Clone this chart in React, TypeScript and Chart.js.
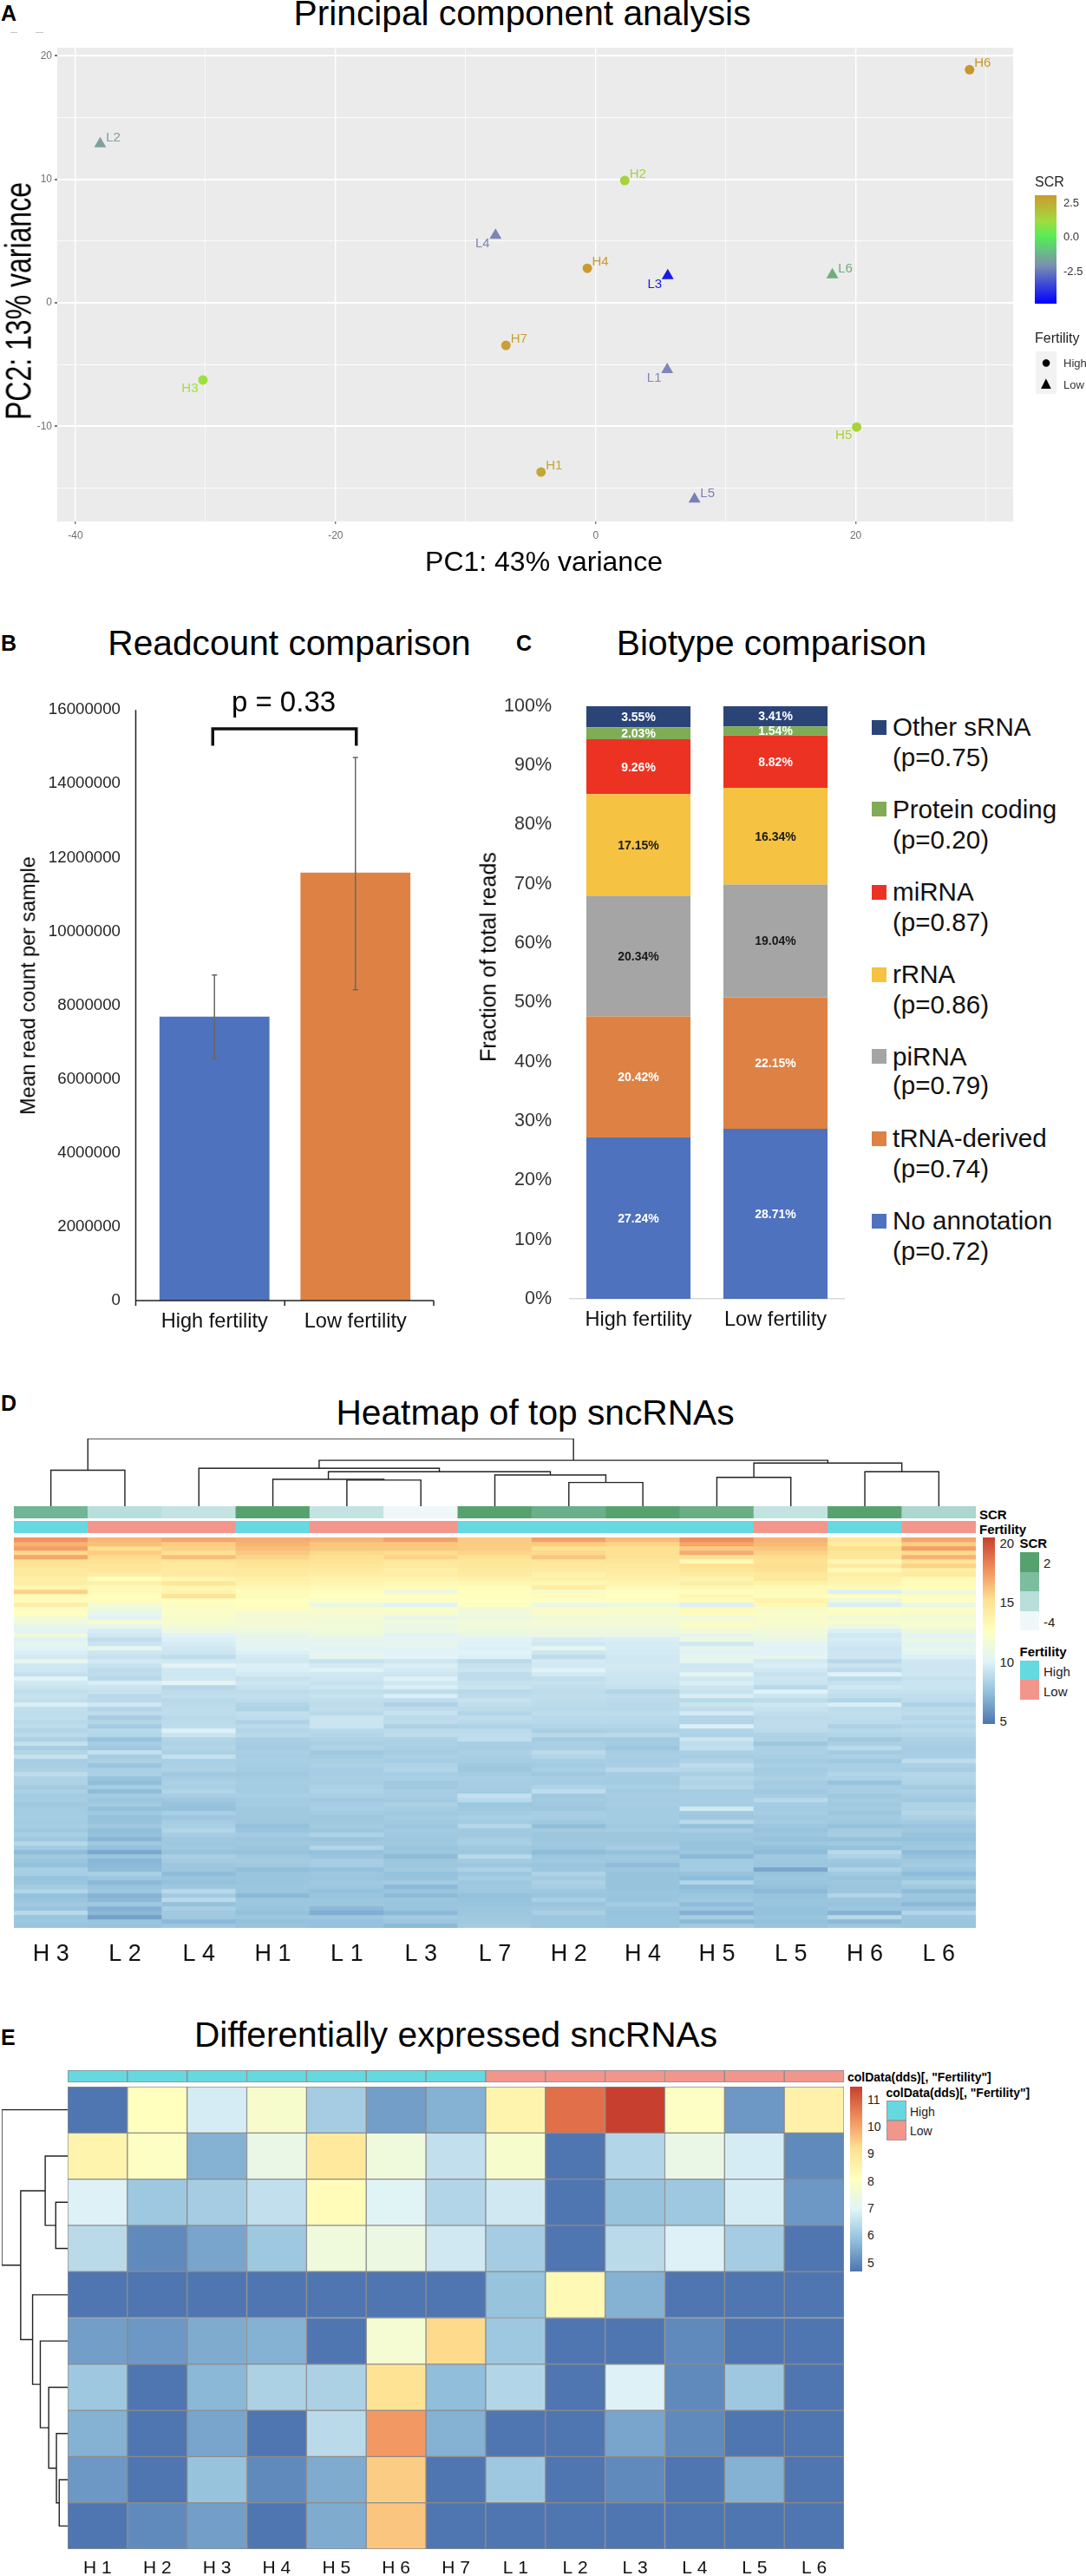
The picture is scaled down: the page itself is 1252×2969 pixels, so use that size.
import React, { useEffect, useRef } from 'react';
import { Chart, registerables } from 'chart.js';

Chart.register(...registerables);

const FONT = '"Liberation Sans", Arial, sans-serif';

// Panel A
const sampleNames = ['H6', 'L2', 'H2', 'L4', 'H4', 'L3', 'L6', 'H7', 'L1', 'H3', 'H5', 'H1', 'L5'];
const pc1 = [28.75, -38.1, 2.24, -7.7, -0.64, 5.54, 18.2, -6.9, 5.5, -30.2, 20.07, -4.2, 7.6];
const pc2 = [18.87, 12.87, 9.9, 5.46, 2.8, 2.2, 2.26, -3.45, -5.4, -6.25, -10.06, -13.7, -15.9];
const scrColors = ['#c8962e', '#7f9f9c', '#a6d23a', '#7d85b8', '#cc9a2e', '#1a1ae6', '#6fae7a', '#c9a035', '#7f86bb', '#9fe03a', '#a8d335', '#c2a732', '#7a7fb8'];
const labelsBelow = ['L4', 'L3', 'L1', 'H3', 'H5'];
const pcaXGrid = [-40, -30, -20, -10, 0, 10, 20, 30];
const pcaYGrid = [-15, -10, -5, 0, 5, 10, 15, 20];

// Panel B
const fertilityGroups = ['High fertility', 'Low fertility'];
const meanReads = [7690000, 11590000];
const readsErrLow = [6550000, 8420000];
const readsErrHigh = [8820000, 14710000];
const bracketTop = 15490000;
const bracketBottom = 15030000;

// Panel C
const biotypes = ['No annotation', 'tRNA-derived', 'piRNA', 'rRNA', 'miRNA', 'Protein coding', 'Other sRNA'];
const biotypeHigh = [27.24, 20.42, 20.34, 17.15, 9.26, 2.03, 3.55];
const biotypeLow = [28.71, 22.15, 19.04, 16.34, 8.82, 1.54, 3.41];
const biotypeP = ['0.72', '0.74', '0.79', '0.86', '0.87', '0.20', '0.75'];
const biotypeColors = ['#4e72bd', '#dd8244', '#a5a5a5', '#f5c242', '#ec3323', '#7fac55', '#2b4478'];
const biotypeTextColors = ['#ffffff', '#ffffff', '#1a1a1a', '#1a1a1a', '#ffffff', '#ffffff', '#ffffff'];

// Panel D
const heatColumns = ['H 3', 'L 2', 'L 4', 'H 1', 'L 1', 'L 3', 'L 7', 'H 2', 'H 4', 'H 5', 'L 5', 'H 6', 'L 6'];
const heatScr = ['#6fb796', '#b8dedb', '#c6e3e3', '#56a26f', '#c3e3e2', '#eff7f9', '#56a26f', '#69b08a', '#56a26f', '#6aae86', '#c3e3e2', '#56a26f', '#acd6cf'];
const HIGH = '#66d8e0';
const LOW = '#f2968c';
const heatFertility = [HIGH, LOW, LOW, HIGH, LOW, LOW, HIGH, HIGH, HIGH, HIGH, LOW, HIGH, LOW];
// [left, right, height]; negative child -1-k means merge k
const heatMerges = [
  [0, 1, 91], [4, 5, 66], [3, -2, 68], [7, 8, 60], [6, -4, 79], [-3, -5, 87],
  [2, -6, 96], [9, 10, 73], [11, 12, 87], [-8, -9, 109], [-7, -10, 116], [-1, -11, 171],
];
const heatRows = [
  [17.6, 16.5, 17.0, 16.8, 16.6, 17.2, 15.8, 17.2, 16.3, 17.8, 16.6, 14.6, 17.0],
  [16.6, 16.2, 15.8, 16.6, 16.0, 16.0, 15.8, 15.8, 15.5, 17.0, 16.4, 14.2, 15.8],
  [17.2, 15.2, 15.6, 16.2, 15.9, 15.9, 15.8, 15.1, 15.1, 15.8, 16.0, 15.2, 17.2],
  [15.4, 15.8, 15.0, 15.9, 15.4, 15.2, 15.5, 15.4, 15.0, 16.8, 15.6, 14.7, 15.3],
  [17.0, 15.3, 16.2, 15.5, 15.0, 15.6, 14.9, 16.0, 15.0, 15.0, 15.2, 14.6, 16.6],
  [15.0, 15.0, 14.6, 15.0, 14.9, 14.4, 14.7, 14.6, 14.7, 13.0, 15.0, 13.2, 14.8],
  [14.8, 14.6, 14.4, 14.8, 14.6, 14.4, 14.6, 14.5, 14.4, 15.1, 15.2, 14.2, 15.6],
  [14.3, 14.6, 14.2, 14.4, 14.4, 13.8, 14.4, 14.2, 14.3, 14.6, 15.0, 13.0, 14.0],
  [14.4, 14.0, 14.3, 14.2, 14.0, 14.0, 14.2, 13.6, 14.0, 14.2, 14.4, 14.0, 14.3],
  [13.9, 12.6, 13.4, 13.8, 13.5, 13.4, 13.7, 13.8, 13.8, 13.4, 14.6, 13.6, 13.0],
  [14.0, 13.8, 14.6, 13.6, 13.4, 13.1, 13.2, 13.2, 13.4, 14.0, 13.6, 13.4, 12.9],
  [13.4, 13.0, 13.3, 13.1, 13.0, 12.8, 12.7, 14.0, 13.0, 13.2, 13.0, 12.9, 12.7],
  [15.6, 13.0, 13.5, 12.9, 12.6, 11.0, 12.6, 12.0, 12.4, 12.6, 13.0, 9.8, 11.2],
  [13.0, 12.6, 14.8, 12.8, 12.5, 12.5, 12.6, 12.8, 12.5, 13.3, 12.7, 12.6, 12.2],
  [12.8, 12.8, 12.6, 12.5, 12.2, 12.4, 12.5, 12.3, 12.4, 12.9, 13.6, 11.0, 12.3],
  [14.0, 11.6, 12.2, 12.6, 10.8, 10.0, 12.4, 10.8, 11.0, 9.8, 13.2, 9.7, 10.8],
  [12.3, 11.0, 12.2, 12.2, 12.0, 12.2, 11.4, 12.0, 12.0, 13.0, 12.0, 12.4, 12.2],
  [12.5, 10.4, 12.1, 11.6, 11.8, 11.8, 11.2, 12.0, 11.8, 12.8, 12.2, 12.2, 12.0],
  [11.6, 10.0, 12.0, 11.6, 11.6, 10.6, 11.0, 11.4, 11.5, 11.2, 12.0, 11.3, 11.4],
  [11.0, 11.8, 11.9, 11.6, 11.4, 11.2, 11.4, 11.6, 11.6, 12.0, 12.0, 12.0, 11.8],
  [10.6, 10.4, 11.3, 11.5, 11.4, 10.8, 11.4, 11.3, 11.2, 12.2, 11.6, 11.0, 11.8],
  [10.2, 9.6, 11.0, 11.0, 11.2, 11.0, 11.0, 11.0, 11.0, 11.4, 11.4, 9.8, 11.0],
  [11.3, 9.4, 10.0, 10.6, 11.0, 10.0, 10.8, 10.8, 10.7, 10.4, 11.0, 9.4, 10.2],
  [9.9, 8.9, 9.8, 10.4, 10.2, 10.4, 10.0, 9.6, 9.7, 10.9, 10.9, 9.6, 10.7],
  [10.4, 9.2, 9.6, 10.3, 10.5, 10.4, 9.9, 9.4, 9.6, 9.4, 10.2, 9.4, 10.3],
  [10.0, 10.5, 9.4, 10.2, 10.0, 10.2, 9.8, 10.4, 9.6, 10.3, 10.0, 9.2, 10.4],
  [9.7, 9.3, 9.3, 9.8, 10.2, 10.0, 10.0, 9.3, 9.5, 10.0, 10.0, 9.3, 10.3],
  [9.5, 9.1, 8.8, 9.5, 10.5, 10.0, 9.8, 8.8, 9.4, 10.4, 10.4, 9.3, 9.8],
  [10.5, 9.5, 9.4, 9.4, 9.1, 9.3, 8.7, 9.5, 9.4, 10.3, 9.5, 8.6, 9.4],
  [9.4, 9.1, 10.2, 9.8, 9.5, 9.7, 9.1, 9.4, 9.5, 9.3, 9.7, 9.2, 9.3],
  [9.3, 8.8, 9.4, 9.7, 9.9, 9.5, 9.2, 9.9, 9.4, 9.4, 9.4, 8.8, 9.3],
  [9.0, 8.8, 9.3, 9.5, 9.4, 9.3, 8.8, 9.5, 9.3, 10.2, 9.1, 9.9, 9.3],
  [10.0, 8.6, 9.4, 9.1, 9.3, 9.9, 8.8, 8.9, 9.2, 9.4, 9.3, 8.7, 9.1],
  [9.4, 9.7, 10.2, 9.3, 9.1, 9.4, 9.1, 9.1, 9.2, 9.7, 9.2, 9.1, 9.2],
  [9.2, 9.2, 8.5, 9.1, 9.3, 9.7, 9.2, 8.9, 9.1, 9.3, 8.6, 9.4, 9.2],
  [8.9, 9.1, 8.8, 8.8, 8.9, 8.8, 8.6, 8.8, 8.4, 9.1, 9.9, 9.1, 9.1],
  [9.1, 8.6, 8.9, 8.9, 9.1, 9.7, 8.8, 8.9, 8.8, 9.7, 9.2, 8.9, 8.9],
  [8.9, 8.7, 8.6, 8.8, 8.9, 8.8, 9.1, 8.8, 8.7, 8.6, 8.8, 8.4, 8.8],
  [9.7, 9.4, 8.7, 8.4, 8.8, 8.3, 8.9, 8.7, 8.6, 9.2, 9.3, 9.7, 8.3],
  [8.9, 8.4, 8.8, 8.3, 8.9, 8.8, 8.7, 8.6, 8.6, 8.8, 9.1, 8.8, 8.7],
  [8.8, 8.8, 8.8, 8.9, 8.6, 9.1, 8.4, 8.8, 8.8, 9.5, 8.9, 8.9, 8.8],
  [8.9, 8.0, 8.6, 8.8, 9.2, 8.7, 8.8, 8.6, 8.6, 8.4, 8.7, 8.8, 8.4],
  [8.6, 8.4, 8.7, 8.3, 9.2, 8.8, 8.6, 8.6, 8.6, 8.4, 8.8, 8.7, 8.7],
  [8.8, 7.9, 8.8, 8.7, 9.2, 8.2, 8.3, 8.4, 8.4, 9.8, 8.8, 8.2, 8.4],
  [8.4, 8.6, 9.8, 8.4, 8.6, 8.7, 8.7, 8.1, 8.2, 8.3, 8.7, 8.6, 8.7],
  [8.7, 8.4, 9.2, 8.6, 8.4, 8.8, 8.8, 8.6, 8.6, 8.3, 8.3, 8.4, 8.5],
  [8.2, 7.5, 8.4, 8.1, 8.3, 8.2, 8.9, 7.9, 7.9, 9.2, 8.3, 7.8, 8.2],
  [9.0, 8.0, 8.3, 8.0, 8.1, 8.2, 8.1, 8.1, 7.9, 8.8, 7.7, 8.1, 8.1],
  [8.0, 7.8, 8.4, 7.9, 8.3, 8.1, 8.0, 8.1, 7.7, 9.0, 8.2, 8.7, 8.0],
  [8.4, 9.0, 8.2, 8.1, 7.8, 8.0, 8.2, 8.7, 8.0, 8.2, 8.2, 7.9, 8.0],
  [9.1, 8.0, 9.0, 8.0, 7.9, 8.2, 8.1, 8.4, 8.1, 8.0, 8.1, 8.2, 8.1],
  [8.0, 8.2, 8.1, 8.1, 8.1, 8.0, 8.0, 8.0, 8.0, 8.3, 7.9, 7.8, 8.8],
  [8.1, 7.6, 8.2, 8.0, 8.2, 8.3, 7.8, 7.9, 8.1, 8.8, 8.1, 8.1, 8.2],
  [8.2, 8.1, 8.3, 7.9, 8.0, 8.4, 7.7, 8.1, 8.6, 8.5, 7.9, 8.1, 8.0],
  [8.8, 8.2, 7.8, 7.8, 8.0, 8.0, 7.9, 7.8, 8.0, 8.1, 8.0, 8.4, 8.5],
  [8.3, 7.5, 8.0, 7.9, 8.1, 8.1, 8.1, 8.0, 7.9, 8.5, 8.2, 8.2, 8.4],
  [8.3, 7.3, 8.2, 8.0, 8.0, 7.8, 8.0, 7.9, 7.9, 8.3, 7.9, 7.5, 8.3],
  [7.9, 8.0, 8.1, 7.9, 8.2, 7.8, 8.0, 8.3, 8.1, 8.5, 8.0, 8.0, 7.9],
  [8.2, 7.2, 8.4, 7.9, 8.3, 8.0, 7.9, 8.8, 7.9, 8.0, 7.8, 8.1, 8.2],
  [7.9, 7.9, 8.0, 8.1, 8.1, 8.0, 9.0, 7.8, 8.0, 8.0, 8.0, 7.8, 8.0],
  [8.0, 7.7, 7.7, 7.9, 7.8, 7.9, 8.6, 7.9, 7.9, 8.0, 8.6, 7.9, 7.8],
  [7.8, 7.9, 7.5, 7.9, 8.0, 8.2, 7.7, 7.8, 8.0, 8.0, 8.0, 7.8, 8.3],
  [7.9, 7.4, 7.4, 7.8, 8.1, 8.0, 7.8, 7.7, 7.9, 9.4, 7.9, 7.9, 8.3],
  [7.9, 7.8, 8.1, 7.8, 7.9, 7.8, 7.9, 8.0, 7.9, 7.8, 8.0, 7.7, 8.5],
  [8.0, 7.4, 7.7, 7.8, 7.7, 7.9, 8.1, 8.0, 7.9, 7.7, 7.8, 7.9, 8.2],
  [7.9, 7.5, 8.0, 7.7, 7.8, 7.8, 7.9, 7.8, 7.9, 8.6, 7.9, 7.8, 7.9],
  [8.0, 7.8, 8.1, 7.4, 7.9, 7.7, 8.5, 7.3, 7.8, 7.4, 7.7, 7.4, 7.6],
  [7.8, 7.3, 8.4, 7.6, 7.7, 7.9, 7.8, 7.9, 7.9, 8.0, 7.5, 7.9, 7.8],
  [8.1, 7.4, 8.0, 7.9, 8.3, 7.8, 7.8, 7.7, 7.7, 7.7, 7.7, 8.0, 7.5],
  [7.8, 7.0, 7.8, 7.7, 7.6, 7.7, 8.0, 7.7, 7.7, 7.7, 7.5, 7.4, 7.4],
  [8.5, 7.8, 7.7, 7.8, 7.8, 7.8, 8.1, 7.8, 7.8, 7.5, 7.7, 7.8, 7.7],
  [7.9, 7.4, 7.8, 7.6, 8.4, 7.6, 7.8, 7.7, 8.0, 7.5, 7.4, 7.4, 7.8],
  [7.2, 6.5, 7.5, 7.5, 7.4, 7.7, 7.7, 7.2, 7.4, 7.7, 7.2, 8.6, 7.2],
  [7.8, 7.6, 8.1, 7.8, 7.6, 7.2, 8.6, 7.7, 7.8, 7.1, 7.8, 8.2, 7.5],
  [7.6, 7.0, 7.9, 7.9, 8.0, 7.7, 7.9, 7.8, 7.7, 7.9, 7.7, 7.8, 7.8],
  [7.4, 7.1, 7.7, 7.8, 8.0, 7.7, 7.7, 7.6, 7.2, 7.9, 7.7, 7.6, 7.9],
  [8.1, 7.2, 7.7, 7.3, 7.4, 7.8, 8.2, 7.7, 7.7, 7.9, 6.4, 8.3, 7.7],
  [8.0, 8.1, 7.2, 7.6, 7.7, 7.4, 7.7, 8.3, 7.5, 7.5, 7.6, 7.8, 7.2],
  [7.5, 7.7, 7.6, 7.6, 7.6, 7.5, 8.0, 7.9, 7.5, 7.2, 7.7, 7.5, 7.6],
  [7.6, 7.1, 7.4, 7.6, 7.8, 7.9, 7.7, 8.2, 7.5, 8.4, 7.6, 7.7, 8.2],
  [7.9, 7.5, 7.7, 7.7, 7.7, 7.1, 7.8, 8.0, 7.5, 7.2, 7.4, 7.6, 7.8],
  [8.4, 7.7, 8.6, 7.6, 7.4, 7.6, 7.7, 7.7, 7.6, 7.4, 7.1, 7.7, 7.2],
  [7.4, 6.9, 7.9, 7.1, 7.6, 7.2, 7.4, 7.6, 7.6, 7.7, 7.5, 8.4, 7.7],
  [7.6, 7.1, 8.7, 7.7, 7.7, 7.7, 7.5, 8.1, 7.6, 7.8, 7.6, 7.6, 7.6],
  [7.8, 7.8, 7.4, 7.7, 7.7, 7.6, 7.6, 7.6, 7.9, 7.2, 7.6, 7.5, 7.1],
  [7.6, 6.8, 8.1, 7.6, 7.1, 7.6, 7.7, 7.8, 7.6, 7.7, 7.4, 7.7, 7.7],
  [8.6, 7.1, 7.8, 7.4, 6.7, 7.1, 7.7, 8.1, 7.5, 6.8, 7.4, 6.9, 8.4],
  [7.6, 6.2, 7.8, 7.7, 7.7, 7.9, 7.8, 7.7, 7.6, 8.0, 7.6, 8.6, 7.7],
  [7.7, 7.6, 7.1, 7.4, 7.4, 7.7, 7.8, 7.7, 7.6, 7.1, 7.4, 7.1, 7.6],
  [7.6, 7.5, 7.7, 7.5, 7.4, 7.1, 7.9, 7.7, 7.6, 7.9, 7.5, 7.7, 7.6],
];

// Panel E
const deColumns = ['H 1', 'H 2', 'H 3', 'H 4', 'H 5', 'H 6', 'H 7', 'L 1', 'L 2', 'L 3', 'L 4', 'L 5', 'L 6'];
const deFertility = [HIGH, HIGH, HIGH, HIGH, HIGH, HIGH, HIGH, LOW, LOW, LOW, LOW, LOW, LOW];
const deMerges = [
  [8, 9, 12], [7, -1, 16], [6, -2, 27], [5, -3, 39], [4, -4, 50],
  [2, 3, 17], [1, -6, 32], [-7, -5, 67], [0, -8, 94],
];
const deRows = [
  [4.7, 8.1, 6.8, 7.8, 6.1, 5.3, 5.6, 8.5, 10.8, 11.5, 8.0, 5.2, 8.6],
  [8.5, 8.0, 5.6, 7.3, 8.9, 7.5, 6.5, 7.8, 4.7, 6.3, 7.3, 6.8, 5.0],
  [6.9, 6.0, 6.1, 6.5, 8.2, 7.0, 6.3, 6.7, 4.7, 5.9, 6.0, 6.8, 5.2],
  [6.4, 5.0, 5.4, 6.0, 7.5, 7.4, 6.7, 6.1, 4.7, 6.4, 6.9, 6.1, 4.7],
  [4.7, 4.7, 4.7, 4.7, 4.7, 4.7, 4.7, 5.9, 8.3, 5.6, 4.7, 4.7, 4.7],
  [5.3, 5.2, 5.5, 5.6, 4.7, 7.7, 9.3, 6.0, 4.7, 4.7, 5.0, 4.7, 4.7],
  [6.0, 4.7, 5.7, 6.2, 6.2, 9.1, 5.8, 6.3, 4.7, 6.9, 5.0, 6.0, 4.7],
  [5.6, 4.7, 5.4, 4.7, 6.4, 10.2, 5.6, 4.7, 4.7, 5.4, 5.0, 4.7, 4.7],
  [5.2, 4.7, 5.9, 5.0, 5.5, 9.5, 4.7, 6.0, 4.7, 5.0, 4.7, 5.6, 4.7],
  [4.7, 5.0, 5.3, 4.7, 5.5, 9.6, 4.7, 4.7, 4.7, 4.7, 4.7, 4.7, 4.7],
];

const ramp = ['#4e74b0', '#91bfdb', '#e0f3f8', '#ffffbf', '#fee090', '#f08d5c', '#c73f2e'];

function heatColor(v: number, lo: number, hi: number) {
  const t = Math.max(0, Math.min(1, (v - lo) / (hi - lo))) * (ramp.length - 1);
  const i = Math.min(ramp.length - 2, Math.floor(t));
  const f = t - i;
  const a = parseInt(ramp[i].slice(1), 16);
  const b = parseInt(ramp[i + 1].slice(1), 16);
  const mix = (s: number) => Math.round(((a >> s) & 255) * (1 - f) + ((b >> s) & 255) * f);
  return `rgb(${mix(16)},${mix(8)},${mix(0)})`;
}

const baseOptions = (padding: any) => ({
  responsive: false,
  animation: false,
  devicePixelRatio: 1,
  events: [],
  layout: { autoPadding: false, padding },
  plugins: { legend: { display: false }, tooltip: { enabled: false } },
});

// floating bars, one dataset per row, rows run downwards
function gridConfig(columns: string[], rowColors: string[][], padding: any, xAxis: any, border?: string): any {
  return {
    type: 'bar',
    data: {
      labels: columns,
      datasets: rowColors.map((colors, r) => ({
        data: columns.map(() => [r, r + 1]),
        backgroundColor: colors,
        borderColor: border || 'transparent',
        borderWidth: border ? 1 : 0,
        borderSkipped: false,
        grouped: false,
        barPercentage: 1,
        categoryPercentage: 1,
      })),
    },
    options: {
      ...baseOptions(padding),
      scales: {
        x: xAxis || { display: false },
        y: { display: false, reverse: true, min: 0, max: rowColors.length },
      },
    },
  };
}

function tickAxis(fontSize: number, tickPadding: number, size: number) {
  return {
    grid: { display: false, drawTicks: false },
    border: { display: false },
    ticks: { font: { family: FONT, size: fontSize }, color: '#111', padding: tickPadding, maxRotation: 0, autoSkip: false },
    afterFit: (s: any) => { s.height = size; },
  };
}

function dendroLines(merges: number[][]) {
  const nodes: { pos: number; h: number }[] = [];
  const node = (k: number) => (k < 0 ? nodes[-1 - k] : { pos: k + 0.5, h: 0 });
  return merges.map(([a, b, h]) => {
    const l = node(a);
    const r = node(b);
    nodes.push({ pos: (l.pos + r.pos) / 2, h });
    return [[l.pos, l.h], [l.pos, h], [r.pos, h], [r.pos, r.h]];
  });
}

function dendroConfig(merges: number[][], count: number, maxH: number, horizontal: boolean): any {
  const line = { display: false };
  return {
    type: 'scatter',
    data: {
      datasets: dendroLines(merges).map(path => ({
        data: path.map(([pos, h]) => (horizontal ? { x: h, y: pos } : { x: pos, y: h })),
        showLine: true,
        borderColor: '#222',
        borderWidth: 1.4,
        pointRadius: 0,
        clip: false,
      })),
    },
    options: {
      ...baseOptions(0),
      scales: horizontal
        ? { x: { ...line, reverse: true, min: 0, max: maxH }, y: { ...line, reverse: true, min: 0, max: count } }
        : { x: { ...line, min: 0, max: count }, y: { ...line, min: 0, max: maxH } },
    },
  };
}

const pcaConfig = (): any => ({
  type: 'scatter',
  data: {
    datasets: [{
      data: pc1.map((x, i) => ({ x, y: pc2[i] })),
      backgroundColor: scrColors,
      borderWidth: 0,
      pointStyle: sampleNames.map(n => (n[0] === 'H' ? 'circle' : 'triangle')),
      pointRadius: sampleNames.map(n => (n[0] === 'H' ? 5.5 : 8)),
    }],
  },
  options: {
    ...baseOptions({ left: 0, top: 55, right: 84, bottom: 49 }),
    scales: {
      x: {
        min: -41.4, max: 32.1,
        afterBuildTicks: (s: any) => { s.ticks = pcaXGrid.map(value => ({ value })); },
        afterFit: (s: any) => { s.height = 30; },
        border: { display: false },
        grid: {
          color: '#ffffff',
          lineWidth: (c: any) => (c.tick && c.tick.value % 20 === 0 ? 1.4 : 0.7),
          tickColor: (c: any) => (c.tick && c.tick.value % 20 === 0 ? '#777' : 'transparent'),
          tickLength: 3,
        },
        ticks: {
          color: '#6e6e6e', font: { family: FONT, size: 12 }, padding: 6, maxRotation: 0, autoSkip: false,
          callback: (v: number) => (v % 20 === 0 ? String(v) : ''),
        },
      },
      y: {
        min: -17.7, max: 20.65,
        afterBuildTicks: (s: any) => { s.ticks = pcaYGrid.map(value => ({ value })); },
        afterFit: (s: any) => { s.width = 66; },
        border: { display: false },
        grid: {
          color: '#ffffff',
          lineWidth: (c: any) => (c.tick && c.tick.value % 10 === 0 ? 2 : 0.8),
          tickColor: (c: any) => (c.tick && c.tick.value % 10 === 0 ? '#777' : 'transparent'),
          tickLength: 3,
        },
        ticks: {
          color: '#6e6e6e', font: { family: FONT, size: 12 }, padding: 3, autoSkip: false,
          callback: (v: number) => (v % 10 === 0 ? String(v) : ''),
        },
      },
    },
  },
  plugins: [{
    id: 'panelBackground',
    beforeDraw(chart: any) {
      const { ctx, chartArea: a } = chart;
      ctx.fillStyle = '#ebebeb';
      ctx.fillRect(a.left, a.top, a.width, a.height);
    },
  }, {
    id: 'pointLabels',
    afterDatasetsDraw(chart: any) {
      const { ctx } = chart;
      ctx.save();
      ctx.font = `15px ${FONT}`;
      ctx.textAlign = 'center';
      ctx.textBaseline = 'middle';
      chart.getDatasetMeta(0).data.forEach((pt: any, i: number) => {
        const below = labelsBelow.includes(sampleNames[i]);
        ctx.fillStyle = scrColors[i];
        ctx.fillText(sampleNames[i], pt.x + (below ? -15 : 15), pt.y + (below ? 10 : -7));
      });
      ctx.restore();
    },
  }],
});

const readsConfig = (): any => ({
  type: 'bar',
  data: {
    labels: fertilityGroups,
    datasets: [{
      data: meanReads,
      backgroundColor: ['#4e72bd', '#dd8244'],
      barPercentage: 0.78,
      categoryPercentage: 1,
    }],
  },
  options: {
    ...baseOptions({ left: 0, top: 25, right: 61, bottom: 21 }),
    scales: {
      x: tickAxis(23.6, 10, 40),
      y: {
        min: 0, max: 16000000,
        afterBuildTicks: (s: any) => { s.ticks = [0, 1, 2, 3, 4, 5, 6, 7, 8].map(k => ({ value: k * 2000000 })); },
        afterFit: (s: any) => { s.width = 166; },
        grid: { display: false, drawTicks: false },
        border: { display: false },
        ticks: { font: { family: FONT, size: 18.7 }, color: '#222', padding: 27, callback: (v: number) => String(v) },
      },
    },
  },
  plugins: [{
    id: 'readsDecor',
    afterDatasetsDraw(chart: any) {
      const { ctx, chartArea: a, scales: { x, y } } = chart;
      ctx.save();
      // axis lines run past the plot area on both sides
      const axisLeft = a.left - 9.5;
      const axisRight = a.right + 9;
      ctx.strokeStyle = '#222';
      ctx.lineWidth = 1.5;
      ctx.beginPath();
      ctx.moveTo(axisLeft, a.top);
      ctx.lineTo(axisLeft, a.bottom);
      ctx.lineTo(axisRight, a.bottom);
      [axisLeft, (axisLeft + axisRight) / 2, axisRight].forEach(px => {
        ctx.moveTo(px, a.bottom);
        ctx.lineTo(px, a.bottom + 6);
      });
      ctx.stroke();
      // error bars
      ctx.strokeStyle = '#666';
      meanReads.forEach((_, i) => {
        const px = x.getPixelForValue(i);
        const lo = y.getPixelForValue(readsErrLow[i]);
        const hi = y.getPixelForValue(readsErrHigh[i]);
        ctx.beginPath();
        ctx.moveTo(px, lo);
        ctx.lineTo(px, hi);
        ctx.moveTo(px - 3, lo);
        ctx.lineTo(px + 3, lo);
        ctx.moveTo(px - 3, hi);
        ctx.lineTo(px + 3, hi);
        ctx.stroke();
      });
      // significance bracket
      ctx.strokeStyle = '#111';
      ctx.lineWidth = 3.5;
      ctx.beginPath();
      ctx.moveTo(x.getPixelForValue(0) - 2, y.getPixelForValue(bracketBottom));
      ctx.lineTo(x.getPixelForValue(0) - 2, y.getPixelForValue(bracketTop));
      ctx.lineTo(x.getPixelForValue(1) + 1, y.getPixelForValue(bracketTop));
      ctx.lineTo(x.getPixelForValue(1) + 1, y.getPixelForValue(bracketBottom));
      ctx.stroke();
      ctx.restore();
    },
  }],
});

const biotypeConfig = (): any => ({
  type: 'bar',
  data: {
    labels: fertilityGroups,
    datasets: biotypes.map((name, i) => ({
      label: name,
      data: [biotypeHigh[i], biotypeLow[i]],
      backgroundColor: biotypeColors[i],
      barPercentage: 0.76,
      categoryPercentage: 1,
    })),
  },
  options: {
    ...baseOptions({ left: 0, top: 25, right: 27, bottom: 23 }),
    scales: {
      x: {
        ...tickAxis(23.6, 10, 40),
        stacked: true,
        border: { display: true, color: '#d9d9d9', width: 1.5 },
      },
      y: {
        stacked: true,
        min: 0, max: 100,
        afterFit: (s: any) => { s.width = 112; },
        grid: { display: false, drawTicks: false },
        border: { display: false },
        ticks: { stepSize: 10, font: { family: FONT, size: 21.5 }, color: '#333', padding: 21, callback: (v: number) => `${v}%` },
      },
    },
  },
  plugins: [{
    id: 'segmentLabels',
    afterDatasetsDraw(chart: any) {
      const { ctx } = chart;
      ctx.save();
      ctx.font = `bold 14px ${FONT}`;
      ctx.textAlign = 'center';
      ctx.textBaseline = 'middle';
      chart.data.datasets.forEach((ds: any, i: number) => {
        chart.getDatasetMeta(i).data.forEach((bar: any, j: number) => {
          ctx.fillStyle = biotypeTextColors[i];
          ctx.fillText(`${ds.data[j].toFixed(2)}%`, bar.x, (bar.y + bar.base) / 2 + 1);
        });
      });
      ctx.restore();
    },
  }],
});

interface ChartBoxProps {
  left: number;
  top: number;
  width: number;
  height: number;
  build: () => any;
}

const ChartBox: React.FC<ChartBoxProps> = ({ left, top, width, height, build }) => {
  const ref = useRef<HTMLCanvasElement>(null);
  useEffect(() => {
    if (!ref.current) return;
    const chart = new Chart(ref.current, build());
    return () => chart.destroy();
  }, []);
  return <canvas ref={ref} width={width} height={height} style={{ position: 'absolute', left, top, width, height }} />;
};

interface LabelProps {
  x: number;
  y: number;
  size: number;
  bold?: boolean;
  color?: string;
  align?: 'left' | 'center';
  rotate?: boolean;
  stretch?: number;
  children: React.ReactNode;
}

// y is the vertical middle of the line
const Label: React.FC<LabelProps> = ({ x, y, size, bold, color = '#000', align = 'left', rotate, stretch, children }) => (
  <div
    style={{
      position: 'absolute',
      left: x,
      top: y,
      fontFamily: FONT,
      fontSize: size,
      fontWeight: bold ? 700 : 400,
      color,
      lineHeight: 1,
      whiteSpace: 'nowrap',
      transform: `translate(${align === 'center' ? '-50%' : '0'}, -50%)${rotate ? ' rotate(-90deg)' : ''}${stretch ? ` scaleY(${stretch})` : ''}`,
    }}
  >
    {children}
  </div>
);

const Swatch: React.FC<{ x: number; y: number; w: number; h: number; bg: string; border?: string }> = ({ x, y, w, h, bg, border }) => (
  <div style={{ position: 'absolute', left: x, top: y, width: w, height: h, background: bg, boxSizing: 'border-box', border: border ? `1px solid ${border}` : undefined }} />
);

const rampGradient = `linear-gradient(to top, ${ramp.join(', ')})`;
const scrGradient = 'linear-gradient(to bottom, #cc9a2e 0%, #a0dc3f 24%, #55ee55 38%, #7a8fb0 65%, #0000ff 100%)';

const legendTop = [1407, 1312, 1217.5, 1123, 1028, 932.5, 838];
const pTop = [1442, 1347, 1251, 1158, 1063, 968, 873];

export default function App() {
  return (
    <div style={{ position: 'absolute', left: 0, top: 0, width: 1252, height: 2969, overflow: 'hidden', background: '#fff' }}>
      {/* A */}
      <Label x={1} y={15} size={25} bold>A</Label>
      <Swatch x={12} y={36.5} w={8} h={1} bg="#c4c4c4" />
      <Swatch x={41} y={36.5} w={9} h={1} bg="#c4c4c4" />
      <Label x={602} y={15} size={40.7} align="center">Principal component analysis</Label>
      <ChartBox left={0} top={0} width={1252} height={680} build={pcaConfig} />
      <Label x={627} y={647} size={32} align="center">PC1: 43% variance</Label>
      <Label x={21} y={347} size={32} align="center" rotate stretch={1.3}>PC2: 13% variance</Label>
      <Label x={1193} y={210} size={16} color="#222">SCR</Label>
      <Swatch x={1193} y={225} w={25} h={125} bg={scrGradient} />
      <Label x={1226} y={233} size={13} color="#333">2.5</Label>
      <Label x={1226} y={272} size={13} color="#333">0.0</Label>
      <Label x={1226} y={312} size={13} color="#333">-2.5</Label>
      <Label x={1193} y={390} size={16} color="#222">Fertility</Label>
      <Swatch x={1194} y={405} w={24} h={49} bg="#f2f2f2" />
      <Label x={1206} y={417} size={20} align="center">●</Label>
      <Label x={1206} y={441} size={20} align="center">▲</Label>
      <Label x={1226} y={418} size={13} color="#333">High</Label>
      <Label x={1226} y={443} size={13} color="#333">Low</Label>

      {/* B */}
      <Label x={1} y={741} size={25} bold>B</Label>
      <Label x={333.5} y={741} size={40.7} align="center">Readcount comparison</Label>
      <ChartBox left={0} top={780} width={552} height={780} build={readsConfig} />
      <Label x={33} y={1136} size={23.4} align="center" rotate>Mean read count per sample</Label>
      <Label x={327} y={808} size={33} align="center">p = 0.33</Label>

      {/* C */}
      <Label x={595} y={741} size={25} bold>C</Label>
      <Label x={889.5} y={741} size={40.7} align="center">Biotype comparison</Label>
      <ChartBox left={545} top={780} width={455} height={780} build={biotypeConfig} />
      <Label x={563} y={1103} size={25} align="center" rotate>Fraction of total reads</Label>
      {biotypes.map((name, i) => (
        <React.Fragment key={name}>
          <Swatch x={1005} y={legendTop[i] - 8.5} w={17} h={17} bg={biotypeColors[i]} />
          <Label x={1029} y={legendTop[i]} size={29.6} color="#111">{name}</Label>
          <Label x={1029} y={pTop[i]} size={29.6} color="#111">{`(p=${biotypeP[i]})`}</Label>
        </React.Fragment>
      ))}

      {/* D */}
      <Label x={1} y={1617} size={25} bold>D</Label>
      <Label x={617} y={1628} size={40.7} align="center">Heatmap of top sncRNAs</Label>
      <ChartBox left={16} top={1658} width={1109} height={78} build={() => dendroConfig(heatMerges, 13, 171, false)} />
      <ChartBox left={16} top={1736} width={1109} height={14} build={() => gridConfig(heatColumns, [heatScr], 0, null)} />
      <ChartBox left={16} top={1753} width={1109} height={14} build={() => gridConfig(heatColumns, [heatFertility], 0, null)} />
      <ChartBox
        left={0} top={1772} width={1125} height={503}
        build={() => gridConfig(heatColumns, heatRows.map(row => row.map(v => heatColor(v, 4.7, 20.4))), { left: 16, top: 0, right: 0, bottom: 13 }, tickAxis(27, 14, 40))}
      />
      <Label x={1129} y={1744.5} size={15} bold>SCR</Label>
      <Label x={1129} y={1762} size={15} bold>Fertility</Label>
      <Swatch x={1132.5} y={1772} w={14.5} h={215} bg={rampGradient} />
      <Label x={1152.5} y={1777.5} size={15} color="#222">20</Label>
      <Label x={1152.5} y={1846} size={15} color="#222">15</Label>
      <Label x={1152.5} y={1915} size={15} color="#222">10</Label>
      <Label x={1152.5} y={1983} size={15} color="#222">5</Label>
      <Label x={1175.5} y={1778} size={15} bold>SCR</Label>
      <Swatch x={1175.5} y={1789} w={22.5} h={22.5} bg="#56a26f" />
      <Swatch x={1175.5} y={1811.5} w={22.5} h={22.5} bg="#7bbd9e" />
      <Swatch x={1175.5} y={1834} w={22.5} h={22.5} bg="#b9dedb" />
      <Swatch x={1175.5} y={1856.5} w={22.5} h={22.5} bg="#eff7f9" />
      <Label x={1203} y={1800.7} size={15} color="#222">2</Label>
      <Label x={1203} y={1869} size={15} color="#222">-4</Label>
      <Label x={1175.5} y={1902.5} size={15} bold>Fertility</Label>
      <Swatch x={1175.5} y={1913.7} w={22.5} h={22.5} bg={HIGH} />
      <Swatch x={1175.5} y={1936.2} w={22.5} h={22.5} bg={LOW} />
      <Label x={1203} y={1925.7} size={15} color="#222">High</Label>
      <Label x={1203} y={1948.5} size={15} color="#222">Low</Label>

      {/* E */}
      <Label x={1} y={2348} size={25} bold>E</Label>
      <Label x={525.5} y={2345} size={40.7} align="center">Differentially expressed sncRNAs</Label>
      <ChartBox left={2} top={2405} width={76} height={533} build={() => dendroConfig(deMerges, 10, 94, true)} />
      <ChartBox left={78} top={2386} width={895} height={14} build={() => gridConfig(deColumns, [deFertility], 0, null, '#8c8c8c')} />
      <ChartBox
        left={78} top={2405} width={895} height={564}
        build={() => gridConfig(deColumns, deRows.map(row => row.map(v => heatColor(v, 4.67, 11.5))), { left: 0, top: 0, right: 0, bottom: 0 }, tickAxis(21, 10, 31), '#8c8c8c')}
      />
      <Label x={977} y={2394} size={14} bold>colData(dds)[, "Fertility"]</Label>
      <Label x={1021.5} y={2411.6} size={14} bold>colData(dds)[, "Fertility"]</Label>
      <Swatch x={980} y={2405} w={14} h={213} bg={rampGradient} />
      {[11, 10, 9, 8, 7, 6, 5].map((t, i) => (
        <Label key={t} x={1000} y={[2420, 2451, 2482, 2514, 2545, 2576, 2608][i]} size={14} color="#222">{t}</Label>
      ))}
      <Swatch x={1021.5} y={2421} w={23} h={23} bg={HIGH} border="#9a9a9a" />
      <Swatch x={1021.5} y={2443.5} w={23} h={23} bg={LOW} border="#9a9a9a" />
      <Label x={1049} y={2434} size={14} color="#222">High</Label>
      <Label x={1049} y={2456} size={14} color="#222">Low</Label>
    </div>
  );
}
